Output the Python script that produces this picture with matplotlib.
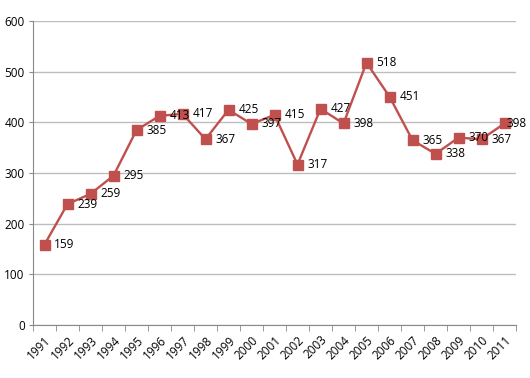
import numpy as np
import matplotlib.pyplot as plt

years = ['1991', '1992', '1993', '1994', '1995', '1996', '1997', '1998', '1999', '2000', '2001',
         '2002', '2003', '2004', '2005', '2006', '2007', '2008', '2009', '2010', '2011']
values = [159, 239, 259, 295, 385, 413, 417, 367, 425, 397, 415,
          317, 427, 398, 518, 451, 365, 338, 370, 367, 398]

red = '#C0504D'
grid_col = '#BDBDBD'
fs = 8.5

fig = plt.figure(figsize=(5.3, 3.78), dpi=100)
ax = fig.add_axes([0.0623, 0.140, 0.9113, 0.804])

x = np.arange(len(years))
ax.plot(x, values, color=red, lw=1.7, marker='s', ms=6.5, zorder=3)
for xi, v in zip(x, values):
    # last label is pushed onto its marker so it stays inside the figure
    dx = 1.5 if xi == x[-1] else 7
    ax.annotate(str(v), (xi, v), xytext=(dx, 0), textcoords='offset points',
                ha='left', va='center', fontsize=fs, family='Open Sans', zorder=4)

ax.set_xlim(-0.5, len(years) - 0.5)
ax.set_ylim(0, 600)
ax.set_yticks(range(0, 601, 100))
ax.yaxis.grid(True, color=grid_col, lw=1)
ax.set_axisbelow(True)

ax.set_xticks(x)
ax.set_xticklabels(years, rotation=45, ha='right', va='top', rotation_mode='anchor',
                   fontsize=fs, family='Open Sans')
ax.tick_params(axis='x', which='major', length=0, pad=6)
ax.set_xticks(np.arange(-0.5, len(years), 1), minor=True)
ax.tick_params(axis='x', which='minor', length=4, color='#888888', direction='out')
ax.tick_params(axis='y', length=3, color='#888888', labelsize=fs, pad=3)
for lab in ax.get_yticklabels():
    lab.set_family('Open Sans')

for s in ['top', 'right']:
    ax.spines[s].set_visible(False)
for s in ['left', 'bottom']:
    ax.spines[s].set_color('#888888')
    ax.spines[s].set_linewidth(0.8)

fig.savefig('out.png', dpi=100)
